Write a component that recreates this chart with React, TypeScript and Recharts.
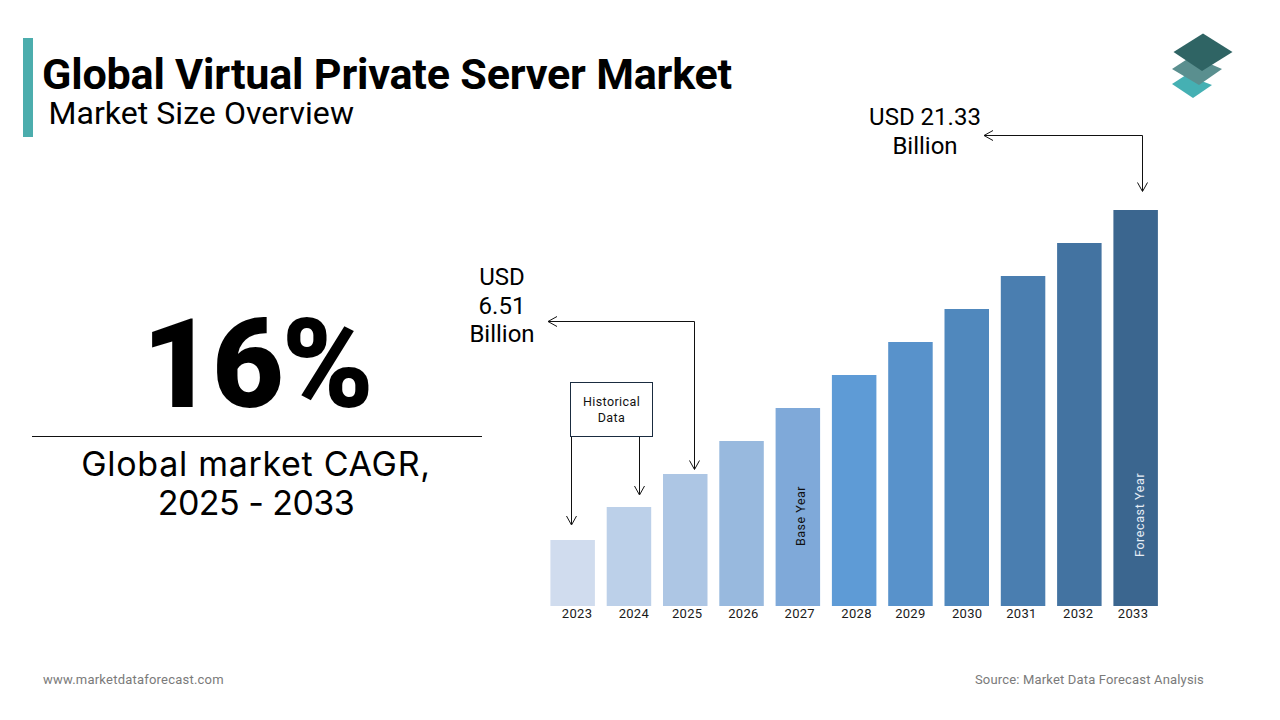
import React from "react";
import { BarChart, Bar, XAxis, YAxis, Cell } from "recharts";

const years = ["2023","2024","2025","2026","2027","2028","2029","2030","2031","2032","2033"];
const marketSize = [3.55,5.33,7.11,8.89,10.66,12.44,14.22,16.0,17.77,19.55,21.33];
const barColors = ["#d0dcee","#bcd0e9","#adc6e4","#98b9de","#7fa9d9","#5e9bd6","#5892cb","#5088bd","#4a7eb0","#4373a1","#3b668f"];
const tickNudge = [4.5,5,2,2,2,2.5,0,0.5,-1.5,-1,-2.5];
const rows = years.map((year, i) => ({ year, value: marketSize[i] }));

const FONT = "Roboto, sans-serif";

const YearTick = (props: any) => {
  const { x, y, payload, index } = props;
  return (
    <text x={x + tickNudge[index]} y={y + 4} textAnchor="middle" fontFamily={FONT} fontSize={13} fill="#1a1a1a" letterSpacing={0.3}>
      {payload.value}
    </text>
  );
};

const Arrow = ({ d, head }: { d: string; head: string }) => (
  <g fill="none" stroke="#111" strokeWidth={1}>
    <path d={d} />
    <path d={head} />
  </g>
);

const T = (p: any) => {
  const { style, children, ...rest } = p;
  return <div style={{ position: "absolute", fontFamily: FONT, color: "#000", whiteSpace: "nowrap", ...style }} {...rest}>{children}</div>;
};

export default function App() {
  return (
    <div style={{ position: "fixed", left: 0, top: 0, width: 1280, height: 720, background: "#fff", overflow: "hidden" }}>
      <div style={{ position: "absolute", left: 0, top: 0 }}>
        <BarChart width={1280} height={720} data={rows} margin={{ top: 210, right: 116.3, bottom: 84, left: 544.4 }}>
          <XAxis dataKey="year" axisLine={false} tickLine={false} tick={<YearTick />} interval={0} height={30} />
          <YAxis hide domain={[0, 21.33]} />
          <Bar dataKey="value" barSize={44.5} isAnimationActive={false}>
            {rows.map((r, i) => <Cell key={r.year} fill={barColors[i]} />)}
          </Bar>
        </BarChart>
      </div>

      <svg width={1280} height={720} style={{ position: "absolute", left: 0, top: 0, pointerEvents: "none" }}>
        <rect x={23} y={38} width={10} height={99} fill="#4cadad" />
        <line x1={32} y1={436.5} x2={482} y2={436.5} stroke="#111" strokeWidth={1} />

        <polygon points="1172,84 1186,75 1212,85 1193,98" fill="#45b0b3" />
        <polygon points="1172,69 1192,56 1222,69 1199,85" fill="#5a8f8f" />
        <polygon points="1173.5,52 1203,33.5 1232.5,52 1202,71" fill="#2f6464" />

        <Arrow d="M1142.5 191V135.5H984" head="M993 130.5L984 135.5L993 140.5M1137.5 182.5L1142.5 191.5L1147.5 182.5" />
        <Arrow d="M694.5 469V321.5H548" head="M557 316.5L548 321.5L557 326.5M689.5 460.5L694.5 469.5L699.5 460.5" />
        <rect x={570.5} y={382.5} width={82} height={54} fill="#fff" stroke="#1a2c40" strokeWidth={1} />
        <Arrow d="M571.5 437V524" head="M566.5 516L571.5 525L576.5 516" />
        <Arrow d="M639.5 437V494" head="M634.5 486L639.5 495L644.5 486" />

        <text x={611.5} y={406} textAnchor="middle" fontFamily={FONT} fontSize={12.5} fill="#111" letterSpacing={0.4}>Historical</text>
        <text x={611.5} y={422} textAnchor="middle" fontFamily={FONT} fontSize={12.5} fill="#111" letterSpacing={0.4}>Data</text>
        <text transform="translate(805,546) rotate(-90)" fontFamily={FONT} fontSize={12.5} fill="#111" letterSpacing={0.5}>Base Year</text>
        <text transform="translate(1144,557) rotate(-90)" fontFamily={FONT} fontSize={12.5} fill="#e6edf5" letterSpacing={0.6}>Forecast Year</text>
      </svg>

      <T style={{ left: 42, top: 55, fontSize: 43.1, lineHeight: "40px", fontWeight: 700, letterSpacing: -0.2 }}>Global Virtual Private Server Market</T>
      <T style={{ left: 48.5, top: 96, fontSize: 32, lineHeight: "34px", letterSpacing: 0.05 }}>Market Size Overview</T>

      <T style={{ left: 32, width: 450, top: 295, textAlign: "center", fontSize: 124, lineHeight: "140px", fontWeight: 900, letterSpacing: -2 }}>16%</T>
      <T style={{ left: 32, width: 448, top: 444, textAlign: "center", fontSize: 34, lineHeight: "39px", fontFamily: "Inter, sans-serif" }}>
        <span style={{ letterSpacing: 0.7 }}>Global market CAGR,</span><br /><span style={{ letterSpacing: -0.55 }}>2025 - 2033</span>
      </T>

      <T style={{ left: 845, width: 160, top: 103, textAlign: "center", fontSize: 24, lineHeight: "29px" }}>USD 21.33<br />Billion</T>
      <T style={{ left: 442, width: 120, top: 263, textAlign: "center", fontSize: 24, lineHeight: "28.5px" }}>USD<br />6.51<br />Billion</T>

      <T style={{ left: 43, top: 672, fontSize: 13, lineHeight: "16px", color: "#7a7a7a", letterSpacing: 0.22 }}>www.marketdataforecast.com</T>
      <T style={{ right: 76, top: 672, fontSize: 13, lineHeight: "16px", color: "#7a7a7a", letterSpacing: 0.17 }}>Source: Market Data Forecast Analysis</T>
    </div>
  );
}
